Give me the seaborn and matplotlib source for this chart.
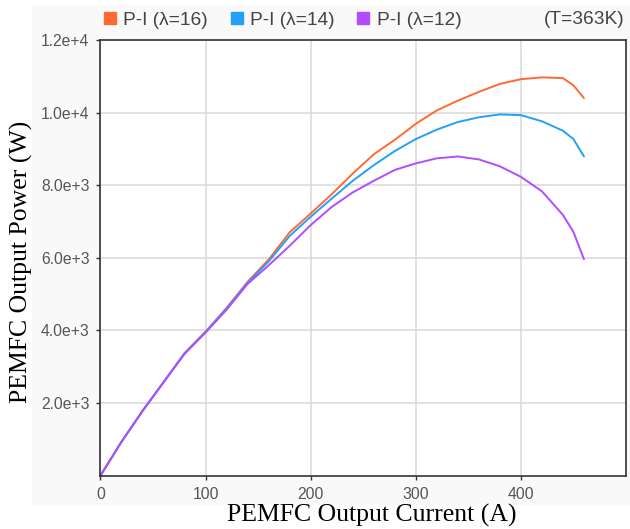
import matplotlib
matplotlib.use("Agg")
import matplotlib.pyplot as plt
import seaborn as sns
import pandas as pd
from matplotlib.lines import Line2D
from matplotlib.patches import Rectangle

# ---- data ----
current = [0, 20, 40, 60, 80, 100, 120, 140, 160, 180, 200, 220, 240, 260,
           280, 300, 320, 340, 360, 380, 400, 420, 440, 450, 460]
power_l16 = [0, 930, 1780, 2570, 3370, 3960, 4620, 5340, 5950, 6700, 7220, 7750,
             8320, 8850, 9250, 9690, 10060, 10330, 10570, 10790, 10920, 10970,
             10950, 10750, 10400]
power_l14 = [0, 930, 1780, 2570, 3370, 3960, 4600, 5310, 5900, 6600, 7130, 7630,
             8120, 8550, 8940, 9270, 9530, 9740, 9870, 9950, 9930, 9760, 9500,
             9270, 8790]
power_l12 = [0, 930, 1780, 2570, 3350, 3940, 4570, 5280, 5790, 6330, 6900, 7400,
             7800, 8120, 8420, 8600, 8740, 8790, 8710, 8520, 8230, 7830, 7180,
             6710, 5960]
series_names = ["P-I (λ=16)", "P-I (λ=14)", "P-I (λ=12)"]
series_colors = ["#ff6a33", "#22a0fa", "#b04dff"]
x_ticks = [0, 100, 200, 300, 400]
x_ticklabels = ["0", "100", "200", "300", "400"]
y_ticks = [2000, 4000, 6000, 8000, 10000, 12000]
y_ticklabels = ["2.0e+3", "4.0e+3", "6.0e+3", "8.0e+3", "1.0e+4", "1.2e+4"]
note_text = "(T=363K)"
x_label = "PEMFC Output Current (A)"
y_label = "PEMFC Output Power (W)"

rows = []
for name, vals in zip(series_names, [power_l16, power_l14, power_l12]):
    for c, p in zip(current, vals):
        rows.append({"I": c, "P": p, "series": name})
df = pd.DataFrame(rows)

sns.set_style("white")
plt.rcParams["font.family"] = ["Liberation Sans", "DejaVu Sans"]

W, H = 630, 529
fig = plt.figure(figsize=(W / 100, H / 100), dpi=100)
fig.patch.set_facecolor("white")
# light gray chart background (web-chart screenshot look)
fig.patches.append(Rectangle((32 / W, 1 - 505 / H), (W - 32) / W, (505 - 5) / H,
                             transform=fig.transFigure, facecolor="#f9f9f9",
                             edgecolor="none", zorder=-10))

ax = fig.add_axes([100.5 / W, 1 - 475.5 / H, 525.5 / W, 435.5 / H])
ax.set_zorder(1)
ax.set_facecolor("white")

sns.lineplot(data=df, x="I", y="P", hue="series", palette=series_colors,
             hue_order=series_names, linewidth=1.4, ax=ax, legend=False,
             sort=False)

ax.set_xlim(0, 500)
ax.set_ylim(0, 12000)
ax.set_xticks(x_ticks)
ax.set_xticklabels(x_ticklabels)
ax.set_yticks(y_ticks)
ax.set_yticklabels(y_ticklabels)
ax.grid(True, color="#d9d9d9", linewidth=1.1)
ax.set_axisbelow(True)
for s in ax.spines.values():
    s.set_color("#333333")
    s.set_linewidth(1.2)
ax.tick_params(axis="both", direction="out", length=3, width=1, color="#333333",
               labelsize=11.3, labelcolor="#555555", pad=5, left=True, bottom=True)
ax.set_xlabel("")
ax.set_ylabel("")

serif = ["Liberation Serif", "DejaVu Serif"]
fig.text(372 / W, 1 - 515 / H, x_label, family=serif, fontsize=18.5,
         ha="center", va="center", color="black")
fig.text(21 / W, 1 - 262 / H, y_label, family=serif, fontsize=18.5,
         ha="center", va="center", rotation=90, color="black")

handles = [Line2D([0], [0], marker="s", linestyle="none", markersize=9,
                  markerfacecolor=c, markeredgecolor=c) for c in series_colors]
fig.legend(handles, series_names, loc="center left",
           bbox_to_anchor=(103 / W, 1 - 20 / H), ncol=3, frameon=False,
           fontsize=13.8, labelcolor="#444444", handlelength=0.7,
           handletextpad=0.35, columnspacing=1.15, borderpad=0, borderaxespad=0)
fig.text(625 / W, 1 - 20 / H, note_text, fontsize=13.8, color="#444444",
         ha="right", va="center")

fig.savefig("out.png", dpi=100, facecolor="white")
